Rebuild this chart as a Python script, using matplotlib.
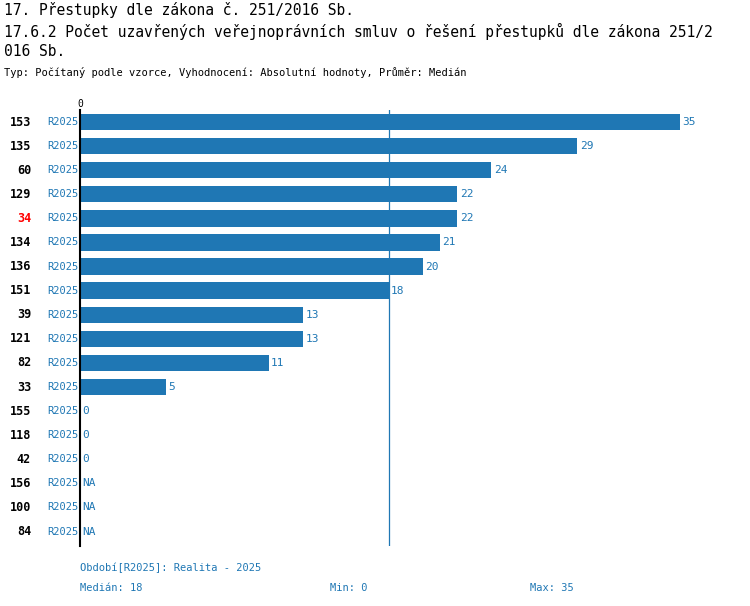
import matplotlib
matplotlib.use("Agg")
import matplotlib.pyplot as plt
from matplotlib.transforms import blended_transform_factory

ids = ["153","135","60","129","34","134","136","151","39","121","82","33","155","118","42","156","100","84"]
values = [35,29,24,22,22,21,20,18,13,13,11,5,0,0,0,None,None,None]
period = "R2025"
median, vmin, vmax = 18, 0, 35
highlight = "34"

W, H = 750, 606
fig = plt.figure(figsize=(W/100, H/100), dpi=100)
mono = "DejaVu Sans Mono"
blue = "#1f77b4"
ax = fig.add_axes([80/W, 1-546/H, 600/W, 436/H])
tr = blended_transform_factory(fig.transFigure, ax.transData)
for i, (lab, v) in enumerate(zip(ids, values)):
    if v is not None and v > 0:
        ax.barh(i, v, height=0.68, color=blue)
    ax.text((v or 0) + 0.15, i, "NA" if v is None else str(v), va="center", ha="left",
            color=blue, fontsize=8, family=mono)
    ax.text(78/W, i, period, va="center", ha="right", color=blue, fontsize=7.5, family=mono, transform=tr)
    ax.text(31/W, i, lab, va="center", ha="right", fontsize=8.5, family=mono, weight="bold",
            color="red" if lab == highlight else "black", transform=tr)
ax.axvline(median, color=blue, lw=0.9)
ax.set_xlim(0, 35)
ax.set_ylim(17.6, -0.5)
for s in ["top", "right", "bottom"]:
    ax.spines[s].set_visible(False)
ax.spines["left"].set_linewidth(1.5)
ax.set_yticks([])
ax.xaxis.tick_top()
ax.set_xticks([0])
ax.tick_params(axis="x", length=0, pad=1, labelsize=7)
for t in ax.get_xticklabels():
    t.set_family(mono)

def ft(x, y, s, **kw):
    fig.text(x/W, 1-y/H, s, family=mono, va="center", **kw)
ft(4, 10, "17. Přestupky dle zákona č. 251/2016 Sb.", fontsize=10.5)
ft(4, 31, "17.6.2 Počet uzavřených veřejnoprávních smluv o řešení přestupků dle zákona 251/2", fontsize=10.5)
ft(4, 52, "016 Sb.", fontsize=10.5)
ft(4, 73, "Typ: Počítaný podle vzorce, Vyhodnocení: Absolutní hodnoty, Průměr: Medián", fontsize=7.5)
ft(80, 568, "Období[R2025]: Realita - 2025", fontsize=7.5, color=blue)
ft(80, 588, f"Medián: {median}", fontsize=7.5, color=blue)
ft(330, 588, f"Min: {vmin}", fontsize=7.5, color=blue)
ft(530, 588, f"Max: {vmax}", fontsize=7.5, color=blue)
fig.savefig("out.png", dpi=100)
